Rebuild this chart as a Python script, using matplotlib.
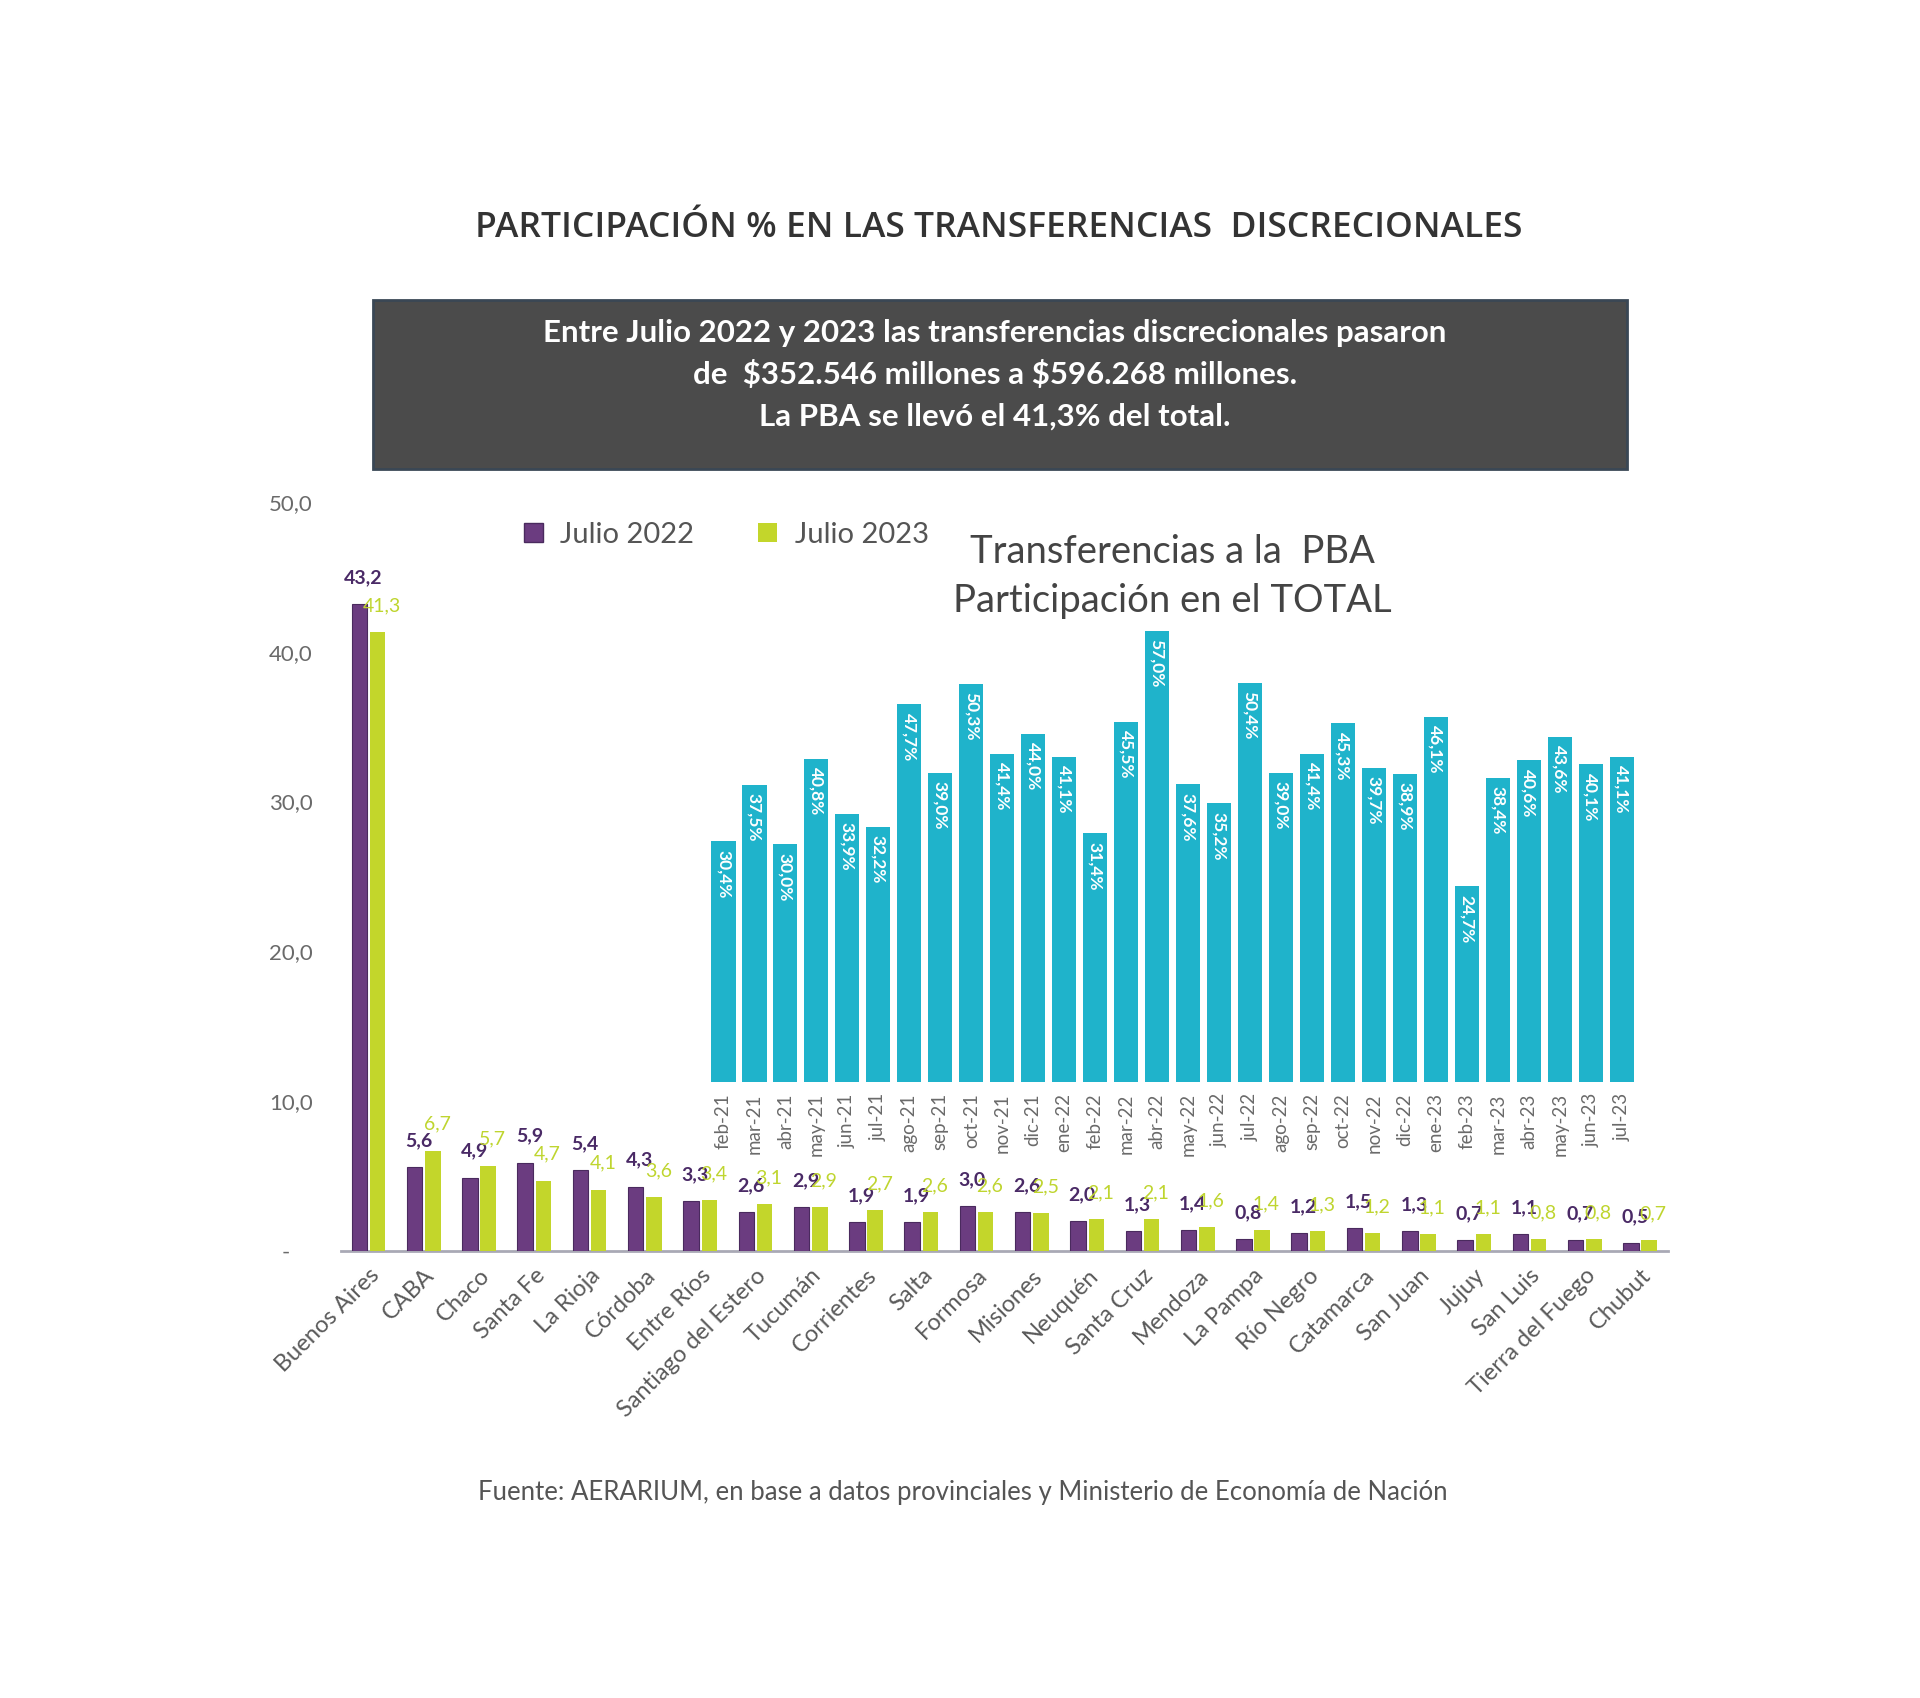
import matplotlib
matplotlib.use("Agg")
import matplotlib.pyplot as plt
from matplotlib.patches import Rectangle, Patch
import numpy as np

plt.rcParams['font.family'] = ['Lato', 'DejaVu Sans']

# ---------------- data ----------------
provincias = ["Buenos Aires", "CABA", "Chaco", "Santa Fe", "La Rioja", "Córdoba",
              "Entre Ríos", "Santiago del Estero", "Tucumán", "Corrientes", "Salta",
              "Formosa", "Misiones", "Neuquén", "Santa Cruz", "Mendoza", "La Pampa",
              "Río Negro", "Catamarca", "San Juan", "Jujuy", "San Luis",
              "Tierra del Fuego", "Chubut"]
julio_2022 = [43.2, 5.6, 4.9, 5.9, 5.4, 4.3, 3.3, 2.6, 2.9, 1.9, 1.9, 3.0, 2.6, 2.0,
              1.3, 1.4, 0.8, 1.2, 1.5, 1.3, 0.7, 1.1, 0.7, 0.5]
julio_2023 = [41.3, 6.7, 5.7, 4.7, 4.1, 3.6, 3.4, 3.1, 2.9, 2.7, 2.6, 2.6, 2.5, 2.1,
              2.1, 1.6, 1.4, 1.3, 1.2, 1.1, 1.1, 0.8, 0.8, 0.7]
y_ticks = [0, 10, 20, 30, 40, 50]
y_ticklabels = ["-    ", "10,0", "20,0", "30,0", "40,0", "50,0"]

meses = ["feb-21", "mar-21", "abr-21", "may-21", "jun-21", "jul-21", "ago-21", "sep-21",
         "oct-21", "nov-21", "dic-21", "ene-22", "feb-22", "mar-22", "abr-22", "may-22",
         "jun-22", "jul-22", "ago-22", "sep-22", "oct-22", "nov-22", "dic-22", "ene-23",
         "feb-23", "mar-23", "abr-23", "may-23", "jun-23", "jul-23"]
pba_share = [30.4, 37.5, 30.0, 40.8, 33.9, 32.2, 47.7, 39.0, 50.3, 41.4, 44.0, 41.1,
             31.4, 45.5, 57.0, 37.6, 35.2, 50.4, 39.0, 41.4, 45.3, 39.7, 38.9, 46.1,
             24.7, 38.4, 40.6, 43.6, 40.1, 41.1]

titulo = "PARTICIPACIÓN % EN LAS TRANSFERENCIAS  DISCRECIONALES"
caja = ["Entre Julio 2022 y 2023 las transferencias discrecionales pasaron",
        "de  \\$352.546 millones a \\$596.268 millones.",
        "La PBA se llevó el 41,3% del total."]
inset_titulo = "Transferencias a la  PBA\nParticipación en el TOTAL"
fuente = "Fuente: AERARIUM, en base a datos provinciales y Ministerio de Economía de Nación"

PURPLE = "#6B3C80"
PURPLE_TXT = "#4A2A66"
GREEN = "#C3D62B"
GREEN_TXT = "#BFD52F"
TEAL = "#1FB3CB"
GRAY_TXT = "#5A5A5A"

W, H = 1920, 1698
K = 1.224  # reference layout measured on a reduced view
fig = plt.figure(figsize=(W / 100, H / 100), dpi=100)
fig.patch.set_facecolor("white")

def fx(px):
    return px * K / W

def fy(py):
    return 1 - py * K / H

# ---------------- title ----------------
fig.text(fx(816), fy(186), titulo, ha="center", va="center", fontsize=25.5,
         color="#333333", fontweight="semibold", family=["Open Sans", "DejaVu Sans"])

# ---------------- dark box ----------------
box = Rectangle((fx(305), fy(383)), fx(1329) - fx(305), fy(245) - fy(383),
                transform=fig.transFigure, facecolor="#4B4B4B", edgecolor="#3A4755",
                linewidth=2, zorder=1)
fig.patches.append(box)
for i, line in enumerate(caja):
    fig.text(fx(813), fy(272 + i * 34), line, ha="center", va="center",
             fontsize=22.5, color="white", fontweight="bold", zorder=2)

# ---------------- main axes ----------------
left = fx(278.4)
right = fx(1362.5)
bottom = fy(1022)
top = fy(410)
ax = fig.add_axes([left, bottom, right - left, top - bottom])
x = np.arange(len(provincias))
bw = 0.28
off = 0.165
ax.bar(x - off, julio_2022, width=bw, color=PURPLE, edgecolor="#4A2A5E",
       linewidth=0.8, zorder=3)
ax.bar(x + off, julio_2023, width=bw, color=GREEN, zorder=3)

for xi, v in zip(x, julio_2022):
    ax.annotate(f"{v:.1f}".replace(".", ","), (xi - off, v), xytext=(3, 19),
                textcoords="offset points", ha="center", va="center",
                fontsize=14, fontweight="bold", color=PURPLE_TXT, zorder=5)
for xi, v in zip(x, julio_2023):
    ax.annotate(f"{v:.1f}".replace(".", ","), (xi + off, v), xytext=(3, 19),
                textcoords="offset points", ha="center", va="center",
                fontsize=14, color=GREEN_TXT, zorder=5)

ax.set_xlim(-0.5, len(provincias) - 0.5)
ax.set_ylim(0, 50)
ax.set_yticks(y_ticks)
ax.set_yticklabels(y_ticklabels)
ax.tick_params(axis="y", length=0, pad=20, labelsize=16, labelcolor="#6A6A6A")
ax.set_xticks(x)
ax.set_xticklabels(provincias, rotation=45, ha="right", va="top",
                   rotation_mode="anchor", fontsize=17, color=GRAY_TXT)
ax.tick_params(axis="x", length=0, pad=10)
for s in ["top", "right", "left"]:
    ax.spines[s].set_visible(False)
ax.spines["bottom"].set_color("#A9A9B5")
ax.spines["bottom"].set_linewidth(2)
ax.set_facecolor("none")

fig.legend(handles=[Patch(facecolor=PURPLE, edgecolor="#4A2A5E", label="Julio 2022"),
                    Patch(facecolor=GREEN, label="Julio 2023")],
           loc="center left", bbox_to_anchor=(fx(428), fy(437)), ncol=2,
           frameon=False, fontsize=21, handlelength=0.65, handleheight=0.65,
           handletextpad=0.6, columnspacing=2.2, labelcolor="#555555",
           borderpad=0, borderaxespad=0)

# ---------------- inset axes ----------------
il = fx(578.4)
ir = fx(1337.6)
ib = fy(884)
it = fy(884 - 60 * 6.47)
ax2 = fig.add_axes([il, ib, ir - il, it - ib])
xm = np.arange(len(meses))
ax2.bar(xm, pba_share, width=0.78, color=TEAL, zorder=3)
for xi, v in zip(xm, pba_share):
    ax2.annotate(f"{v:.1f}%".replace(".", ","), (xi, v), xytext=(0, -6),
                 textcoords="offset points", ha="center", va="top", rotation=270,
                 fontsize=12.5, color="white", fontweight="bold", zorder=5)
ax2.set_xlim(-0.5, len(meses) - 0.5)
ax2.set_ylim(0, 60)
ax2.set_yticks([])
ax2.set_xticks(xm)
ax2.set_xticklabels(meses, rotation=90, ha="center", va="top", fontsize=13.5,
                    color="#6A6A6A")
ax2.tick_params(axis="x", length=0, pad=8)
for s in ax2.spines.values():
    s.set_visible(False)
ax2.set_facecolor("none")

fig.text(fx(958), fy(471), inset_titulo, ha="center", va="center", fontsize=27.5,
         color="#444444", linespacing=1.45)

# ---------------- footer ----------------
fig.text(fx(787), fy(1219), fuente, ha="center", va="center", fontsize=18.5,
         color="#555555")

fig.savefig("out.png", dpi=100, facecolor="white")
